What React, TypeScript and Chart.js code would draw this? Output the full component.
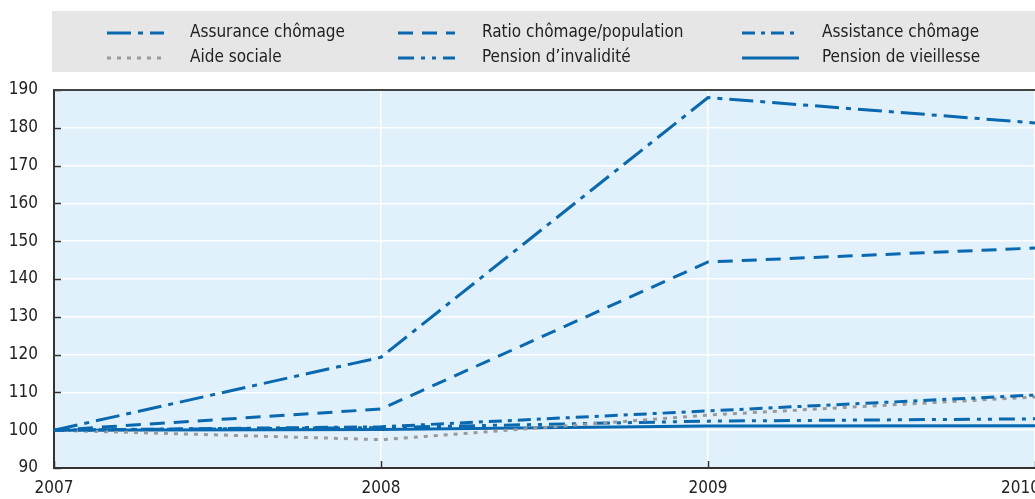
import React, { useEffect, useRef } from "react";
import { Chart, registerables } from "chart.js";

Chart.register(...registerables);

const years = ["2007", "2008", "2009", "2010"];
const assuranceChomage = [100, 119.3, 188, 181.3];
const ratioChomagePopulation = [100, 105.6, 144.5, 148.2];
const assistanceChomage = [100, 100.9, 105.1, 109.3];
const aideSociale = [100, 97.5, 104, 108.8];
const pensionInvalidite = [100, 100.7, 102.4, 103.0];
const pensionVieillesse = [100, 100.2, 101.1, 101.2];
const yTicks = [90, 100, 110, 120, 130, 140, 150, 160, 170, 180, 190];

const BLUE = "#0868b0";
const GREY = "#9a9a9a";
const FONT = "'DejaVu Sans Condensed', 'Liberation Sans', Arial, sans-serif";
const TICK_SIZE = 17;
const X_PAD = 10;

const seriesDefs = [
  { label: "Assurance chômage", data: assuranceChomage, color: BLUE, dash: [24, 7, 5, 7] },
  { label: "Ratio chômage/population", data: ratioChomagePopulation, color: BLUE, dash: [15, 9] },
  { label: "Assistance chômage", data: assistanceChomage, color: BLUE, dash: [13, 6, 4, 6] },
  { label: "Aide sociale", data: aideSociale, color: GREY, dash: [4, 6] },
  { label: "Pension d’invalidité", data: pensionInvalidite, color: BLUE, dash: [16, 7, 4, 7, 4, 7] },
  { label: "Pension de vieillesse", data: pensionVieillesse, color: BLUE, dash: [] as number[] },
];

const CANVAS_W = 1100;
const CANVAS_H = 499;

const decorPlugin = {
  id: "decor",
  beforeDraw(chart: any) {
    const { ctx, chartArea } = chart;
    ctx.save();
    ctx.fillStyle = "#e0f1fb";
    ctx.fillRect(chartArea.left, chartArea.top, chartArea.right - chartArea.left, chartArea.bottom - chartArea.top);
    ctx.restore();
  },
  beforeDatasetsDraw(chart: any) {
    const { ctx, chartArea, scales } = chart;
    ctx.save();
    ctx.strokeStyle = "#333333";
    ctx.lineWidth = 1.5;
    ctx.beginPath();
    yTicks.forEach((v) => {
      const y = Math.round(scales.y.getPixelForValue(v)) + 0.5;
      ctx.moveTo(chartArea.left, y);
      ctx.lineTo(chartArea.left + 7, y);
    });
    years.forEach((_, i) => {
      const x = Math.round(scales.x.getPixelForValue(i)) + 0.5;
      ctx.moveTo(x, chartArea.bottom);
      ctx.lineTo(x, chartArea.bottom - 7);
    });
    ctx.stroke();
    ctx.strokeStyle = "#444444";
    ctx.lineWidth = 2;
    ctx.beginPath();
    ctx.moveTo(chartArea.left, chartArea.top);
    ctx.lineTo(chartArea.right, chartArea.top);
    ctx.stroke();
    ctx.restore();
  },
  afterDraw(chart: any) {
    const { ctx, chartArea, scales } = chart;
    ctx.save();
    // last x label, pulled inside the visible page
    const last = years.length - 1;
    ctx.fillStyle = "#222222";
    ctx.font = `${TICK_SIZE}px ${FONT}`;
    ctx.textAlign = "right";
    ctx.textBaseline = "middle";
    ctx.fillText(years[last], scales.x.getPixelForValue(last) + 5, chartArea.bottom + X_PAD + (TICK_SIZE * 1.2) / 2);

    ctx.fillStyle = "#e6e6e6";
    ctx.fillRect(52, 11, CANVAS_W, 61);
    const cols = [
      { lx: 107, tx: 190 },
      { lx: 398, tx: 482 },
      { lx: 742, tx: 822 },
    ];
    const rows = [33, 58];
    seriesDefs.forEach((s, i) => {
      const c = cols[i % 3];
      const y = rows[Math.floor(i / 3)];
      ctx.strokeStyle = s.color;
      ctx.lineWidth = 3;
      ctx.setLineDash(s.dash);
      ctx.beginPath();
      ctx.moveTo(c.lx, y);
      ctx.lineTo(c.lx + 57, y);
      ctx.stroke();
      ctx.setLineDash([]);
      ctx.fillStyle = "#222222";
      ctx.font = `17px ${FONT}`;
      ctx.textBaseline = "middle";
      ctx.textAlign = "left";
      ctx.fillText(s.label, c.tx, y);
    });
    ctx.restore();
  },
};

export default function App() {
  const ref = useRef<HTMLCanvasElement | null>(null);
  useEffect(() => {
    document.body.style.margin = "0";
    if (!ref.current) return;
    const chart = new Chart(ref.current, {
      type: "line",
      data: {
        labels: years,
        datasets: seriesDefs.map((s) => ({
          label: s.label,
          data: s.data,
          borderColor: s.color,
          backgroundColor: s.color,
          borderDash: s.dash,
          borderWidth: 3,
          borderCapStyle: "butt" as const,
          pointRadius: 0,
          tension: 0,
          fill: false,
        })),
      },
      options: {
        animation: false,
        responsive: false,
        maintainAspectRatio: false,
        devicePixelRatio: 1,
        layout: { padding: { top: 90, right: CANVAS_W - 1035, left: 0, bottom: 0 } },
        plugins: { legend: { display: false }, tooltip: { enabled: false } },
        scales: {
          x: {
            type: "category",
            offset: false,
            grid: { color: "#ffffff", lineWidth: 1.5, drawTicks: false },
            border: { display: true, color: "#333333", width: 2 },
            ticks: {
              color: "#222222",
              font: { family: FONT, size: TICK_SIZE },
              padding: X_PAD,
              maxRotation: 0,
              autoSkip: false,
              callback: (_v: any, i: number) => (i === years.length - 1 ? "" : years[i]),
            },
            afterFit: (scale: any) => {
              scale.height = 31;
            },
          },
          y: {
            min: 90,
            max: 190,
            afterBuildTicks: (scale: any) => {
              scale.ticks = yTicks.map((v) => ({ value: v }));
            },
            grid: { color: "#ffffff", lineWidth: 1.5, drawTicks: false },
            border: { display: true, color: "#333333", width: 2 },
            ticks: { color: "#222222", font: { family: FONT, size: TICK_SIZE }, padding: 16 },
            afterFit: (scale: any) => {
              scale.width = 54;
            },
          },
        },
      },
      plugins: [decorPlugin],
    });
    return () => chart.destroy();
  }, []);
  return (
    <div style={{ width: 1035, height: CANVAS_H, overflow: "hidden", position: "relative" }}>
      <canvas ref={ref} width={CANVAS_W} height={CANVAS_H} style={{ width: CANVAS_W, height: CANVAS_H, display: "block" }} />
    </div>
  );
}
